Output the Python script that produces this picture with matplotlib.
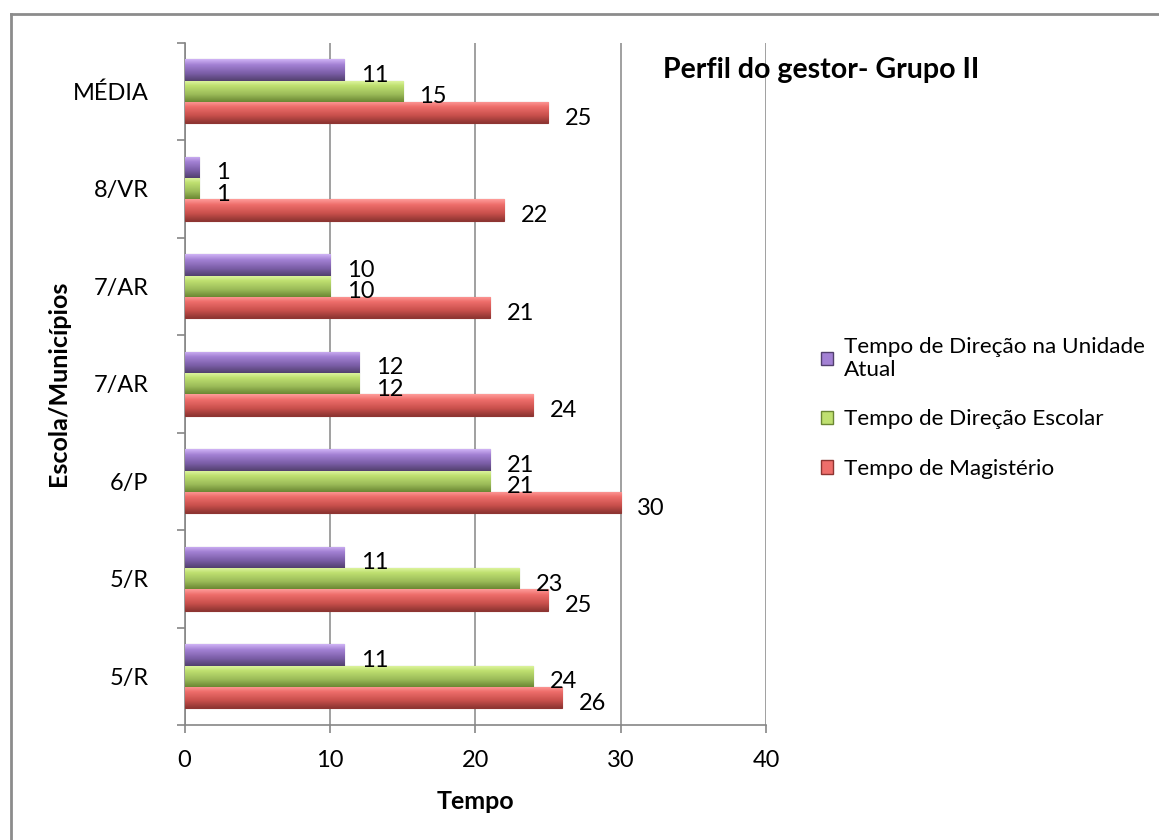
import numpy as np
import matplotlib
matplotlib.use('Agg')
import matplotlib.pyplot as plt
from matplotlib.colors import LinearSegmentedColormap
from matplotlib.patches import Patch
from matplotlib.lines import Line2D

plt.rcParams['font.family'] = ['Lato', 'DejaVu Sans']

escolas = ['5/R', '5/R', '6/P', '7/AR', '7/AR', '8/VR', 'MÉDIA']
magisterio = [26, 25, 30, 24, 21, 22, 25]
direcao_escolar = [24, 23, 21, 12, 10, 1, 15]
direcao_unidade = [11, 11, 21, 12, 10, 1, 11]

series = [
    ('Tempo de Magistério', magisterio, ['#8e3532', '#c9504c', '#ee6e6b', '#ff9c9a']),
    ('Tempo de Direção Escolar', direcao_escolar, ['#6b8733', '#9bbb59', '#bfe070', '#e2f7a6']),
    ('Tempo de Direção na Unidade\nAtual', direcao_unidade, ['#52406e', '#7b5ea7', '#a381d4', '#cfb3f5']),
]

fs = 17

fig = plt.figure(figsize=(11.59, 8.4), dpi=100)
ax = fig.add_axes([184.5 / 1159, 1 - 725 / 840, 581.5 / 1159, 682.5 / 840])

y = np.arange(len(escolas))
h = 0.22
grad = np.linspace(0, 1, 64).reshape(-1, 1)

for i, (nome, vals, cores) in enumerate(series):
    pos = y + (i - 1) * h
    bars = ax.barh(pos, vals, height=h, color=cores[1], edgecolor=cores[0],
                   linewidth=0.8, zorder=3)
    cmap = LinearSegmentedColormap.from_list(
        'g', [(0, cores[0]), (0.35, cores[1]), (0.75, cores[2]), (1, cores[3])])
    for b in bars:
        x0, y0 = b.get_x(), b.get_y()
        im = ax.imshow(grad, cmap=cmap, origin='lower', aspect='auto',
                       extent=[x0, x0 + b.get_width(), y0, y0 + b.get_height()],
                       zorder=3.5)
        im.set_clip_path(b)
    for p, v in zip(pos, vals):
        ax.annotate(str(v), (v, p), xytext=(12, -4), textcoords='offset points',
                    va='center', ha='left', fontsize=fs, zorder=5)

ax.set_xlim(0, 40)
ax.set_ylim(-0.5, len(escolas) - 0.5)
ax.set_xticks([0, 10, 20, 30, 40])
ax.set_yticks(y)
ax.set_yticklabels(escolas)
ax.set_yticks(np.arange(len(escolas) + 1) - 0.5, minor=True)
ax.tick_params(axis='y', which='major', length=0, pad=26, labelsize=fs)
ax.tick_params(axis='y', which='minor', length=5.5, width=1.2, color='#868686', direction='out')
ax.tick_params(axis='x', length=6, width=1.2, color='#868686', pad=12, labelsize=fs)

ax.grid(axis='x', color='#868686', linewidth=1.1, zorder=0)
for s in ['top', 'right']:
    ax.spines[s].set_visible(False)
for s in ['left', 'bottom']:
    ax.spines[s].set_color('#868686')
    ax.spines[s].set_linewidth(1.2)

ax.set_xlabel('Tempo', fontsize=18, fontweight='bold', labelpad=14)
ax.set_ylabel('Escola/Municípios', fontsize=18, fontweight='bold')
ax.yaxis.set_label_coords(-0.197, 0.5)

fig.text(663 / 1159, 1 - 70 / 840, 'Perfil do gestor- Grupo II', fontsize=20.5,
         fontweight='bold', va='center', ha='left')

handles = [Patch(facecolor=c[2], edgecolor=c[0], label=n) for n, _, c in series[::-1]]
fig.legend(handles=handles, loc='upper left', bbox_to_anchor=(812 / 1159, 1 - 328 / 840),
           frameon=False, fontsize=16.2, handlelength=0.55, handleheight=0.55,
           handletextpad=0.45, labelspacing=1.3, borderaxespad=0)

# outer chart border (only top and left edges fall inside the image)
brd = dict(color='#8c8c8c', linewidth=2, transform=fig.transFigure)
fig.add_artist(Line2D([11 / 1159, 11 / 1159], [0, 1 - 14 / 840], **brd))
fig.add_artist(Line2D([11 / 1159, 1], [1 - 14 / 840, 1 - 14 / 840], **brd))

fig.savefig('out.png', dpi=100, facecolor='white')
